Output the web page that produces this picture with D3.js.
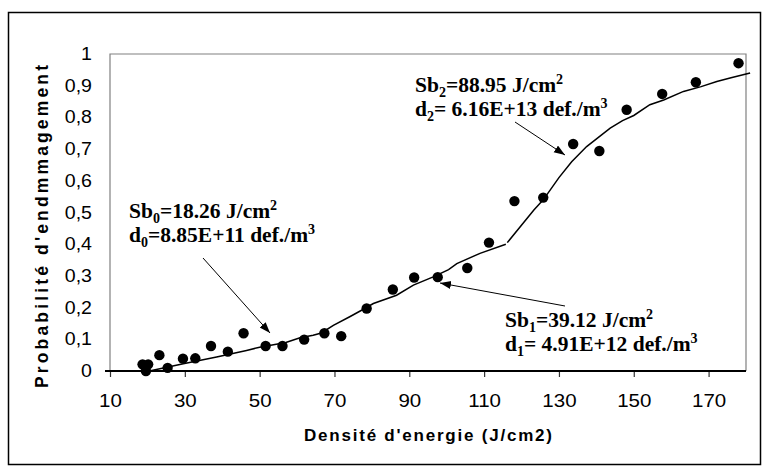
<!DOCTYPE html>
<html>
<head>
<meta charset="utf-8">
<script src="https://cdn.jsdelivr.net/npm/d3@7"></script>
<style>
  html, body { margin: 0; padding: 0; background: #fff; }
  svg { display: block; }
</style>
</head>
<body>
<svg id="chart" width="767" height="467"></svg>
<script>
// Measured damage probability versus energy density
const energy = [18.7, 19.6, 20.2, 23.2, 25.4, 29.5, 32.8, 37.0, 41.5, 45.7, 51.6, 56.1, 61.9, 67.3, 71.8,
                78.6, 85.6, 91.3, 97.6, 105.5, 111.3, 118.1, 125.8, 133.8, 140.8, 148.1, 157.6, 166.6, 178.0];
const prob   = [0.021, 0.0, 0.021, 0.05, 0.01, 0.039, 0.04, 0.079, 0.061, 0.119, 0.079, 0.079, 0.099, 0.119, 0.11,
                0.197, 0.257, 0.295, 0.296, 0.325, 0.405, 0.536, 0.547, 0.716, 0.694, 0.824, 0.874, 0.911, 0.971];

// Fitted model, low-fluence branch
const fitE1 = [20.5, 29.6, 38.5, 46.5, 50, 53.7, 57, 60.8, 64.3, 66.5, 69.7, 74.2, 77, 80.4, 86.6, 91.1, 96.4, 100.5, 102.7, 108.9, 115.8];
const fitP1 = [0, 0.023, 0.044, 0.065, 0.075, 0.083, 0.09, 0.105, 0.113, 0.12, 0.144, 0.172, 0.19, 0.213, 0.239, 0.271, 0.297, 0.32, 0.339, 0.371, 0.40];
// Fitted model, high-fluence branch
const fitE2 = [116.2, 123.3, 125.8, 130, 133.4, 137.4, 143.7, 147, 150, 154.3, 158, 163.3, 168, 172.2, 176, 181.1];
const fitP2 = [0.405, 0.508, 0.54, 0.61, 0.66, 0.708, 0.766, 0.79, 0.806, 0.84, 0.855, 0.882, 0.897, 0.913, 0.925, 0.94];

const xTicks = [10, 30, 50, 70, 90, 110, 130, 150, 170];
const yTicks = [0, 0.1, 0.2, 0.3, 0.4, 0.5, 0.6, 0.7, 0.8, 0.9, 1];
const yTickLabels = ["0", "0,1", "0,2", "0,3", "0,4", "0,5", "0,6", "0,7", "0,8", "0,9", "1"];

const xTitle = "Densité d'energie (J/cm2)";
const yTitle = "Probabilité d'endmmagement";

// Annotations: [main, sub, rest, sup] per line
const notes = [
  { lines: [["Sb", "0", "=18.26 J/cm", "2"], ["d", "0", "=8.85E+11 def./m", "3"]], x: 129, y: 218, from: [203, 258], to: [270, 333] },
  { lines: [["Sb", "1", "=39.12 J/cm", "2"], ["d", "1", "= 4.91E+12 def./m", "3"]], x: 505, y: 327, from: [565, 306], to: [440, 283] },
  { lines: [["Sb", "2", "=88.95 J/cm", "2"], ["d", "2", "= 6.16E+13 def./m", "3"]], x: 415, y: 92, from: [515, 122], to: [565, 155] }
];

const svg = d3.select("#chart");
const plotL = 110, plotR = 746, plotT = 54, plotB = 371;

const x = d3.scaleLinear().domain([10, 180]).range([plotL, plotR]);
const y = d3.scaleLinear().domain([0, 1]).range([plotB, plotT]);

// Outer border
svg.append("rect").attr("x", 8.5).attr("y", 12.5).attr("width", 752).attr("height", 452)
  .attr("fill", "none").attr("stroke", "#000").attr("stroke-width", 1.5);

// Plot frame
svg.append("path")
  .attr("d", `M${plotL},${plotB} V${plotT} H${plotR} V${plotB}`)
  .attr("fill", "none").attr("stroke", "#808080").attr("stroke-width", 1.2);

// X axis
const xAxis = d3.axisBottom(x).tickValues(xTicks).tickSize(6).tickSizeOuter(0).tickFormat(d3.format("d"));
const gx = svg.append("g").attr("transform", `translate(0,${y(0)})`).call(xAxis);
gx.select(".domain").remove();
gx.selectAll(".tick line").attr("stroke", "#333").attr("stroke-width", 1.2);
gx.selectAll(".tick text").remove();
gx.selectAll(".tick").append("text")
  .attr("text-anchor", "middle")
  .attr("transform", "translate(0,36) scale(1.08,1)")
  .attr("font-family", "Liberation Sans, Arial, sans-serif")
  .attr("font-size", 19).attr("fill", "#000")
  .text(d => d);
svg.append("line").attr("x1", plotL - 5).attr("x2", plotR).attr("y1", y(0)).attr("y2", y(0))
  .attr("stroke", "#000").attr("stroke-width", 2);

// Y tick labels
svg.append("g").selectAll("text").data(yTicks).join("text")
  .attr("text-anchor", "end")
  .attr("transform", d => `translate(92,${y(d) + 6}) scale(1.12,1)`)
  .attr("font-family", "Liberation Sans, Arial, sans-serif")
  .attr("font-size", 17.5).attr("fill", "#000")
  .text((d, i) => yTickLabels[i]);

// Axis titles
svg.append("text")
  .attr("x", 304).attr("y", 441)
  .attr("textLength", 248).attr("lengthAdjust", "spacing")
  .attr("font-family", "Liberation Sans, Arial, sans-serif")
  .attr("font-weight", "bold").attr("font-size", 17).attr("fill", "#000")
  .text(xTitle);
svg.append("text")
  .attr("transform", "translate(48,388) rotate(-90)")
  .attr("textLength", 323).attr("lengthAdjust", "spacing")
  .attr("font-family", "Liberation Sans, Arial, sans-serif")
  .attr("font-weight", "bold").attr("font-size", 17.5).attr("fill", "#000")
  .text(yTitle);

// Fitted curves
const line = d3.line().x(d => x(d[0])).y(d => y(d[1]));
[[fitE1, fitP1], [fitE2, fitP2]].forEach(([e, p]) => {
  svg.append("path")
    .datum(e.map((v, i) => [v, p[i]]))
    .attr("d", line)
    .attr("fill", "none").attr("stroke", "#000").attr("stroke-width", 1.5);
});

// Measured points
svg.append("g").selectAll("circle").data(energy).join("circle")
  .attr("cx", d => x(d)).attr("cy", (d, i) => y(prob[i])).attr("r", 5.2)
  .attr("fill", "#000");

// Arrowhead marker
svg.append("defs").append("marker")
  .attr("id", "arrow").attr("markerUnits", "userSpaceOnUse")
  .attr("markerWidth", 12).attr("markerHeight", 10)
  .attr("refX", 11).attr("refY", 4).attr("orient", "auto")
  .append("path").attr("d", "M0,0 L11,4 L0,8 Z").attr("fill", "#000");

// Annotations
notes.forEach(n => {
  svg.append("line")
    .attr("x1", n.from[0]).attr("y1", n.from[1]).attr("x2", n.to[0]).attr("y2", n.to[1])
    .attr("stroke", "#000").attr("stroke-width", 1).attr("marker-end", "url(#arrow)");
  n.lines.forEach((parts, li) => {
    const t = svg.append("text")
      .attr("x", n.x).attr("y", n.y + li * 24)
      .attr("font-family", "Liberation Serif, Times New Roman, serif")
      .attr("font-weight", "bold").attr("font-size", 21.5).attr("fill", "#000");
    t.append("tspan").text(parts[0]);
    t.append("tspan").attr("font-size", 14).attr("dy", 5).text(parts[1]);
    t.append("tspan").attr("dy", -5).text(parts[2]);
    t.append("tspan").attr("font-size", 14).attr("dy", -8).text(parts[3]);
  });
});
</script>
</body>
</html>
